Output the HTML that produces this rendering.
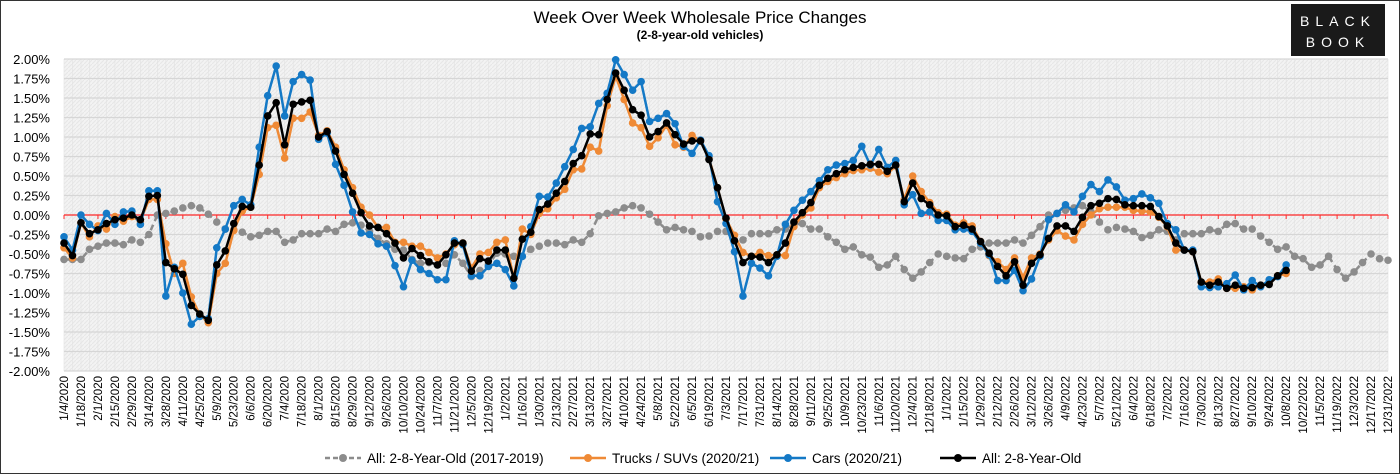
<!DOCTYPE html>
<html><head><meta charset="utf-8">
<style>
html,body{margin:0;padding:0;background:#fff;}
svg{display:block;font-family:"Liberation Sans",Arial,sans-serif;}
</style></head>
<body>
<svg id="chart" width="1400" height="474" viewBox="0 0 1400 474" xmlns="http://www.w3.org/2000/svg">
<defs>
<pattern id="hatch" width="4" height="4" patternUnits="userSpaceOnUse">
<rect width="4" height="4" fill="#f3f3f3"/>
<path d="M0,4 L4,0" stroke="#e6e6e6" stroke-width="1"/>
</pattern>
</defs>
<rect x="0.5" y="0.5" width="1399" height="473" fill="#fff" stroke="#333"/>
<text x="700" y="23" text-anchor="middle" font-size="17" fill="#000">Week Over Week Wholesale Price Changes</text>
<text x="700" y="39" text-anchor="middle" font-size="12" font-weight="bold" fill="#000">(2-8-year-old vehicles)</text>
<g>
<rect x="1291" y="4" width="94" height="52" fill="#1a1a1a"/>
<text x="1338" y="26" text-anchor="middle" font-size="14" fill="#fff" letter-spacing="6">BLACK</text>
<text x="1338" y="47" text-anchor="middle" font-size="14" fill="#fff" letter-spacing="6">BOOK</text>
</g>
<rect x="64" y="59" width="1324" height="312" fill="url(#hatch)"/>
<g id="grid"></g>
<g id="axes"></g>
<g id="series"></g>
<g id="legend"></g>
</svg>
<script>
const yTicks = [2,1.75,1.5,1.25,1,0.75,0.5,0.25,0,-0.25,-0.5,-0.75,-1,-1.25,-1.5,-1.75,-2];
const startDate = [2020,0,4];
const weekCount = 157;
const histAvg = [-0.57,-0.57,-0.57,-0.44,-0.40,-0.36,-0.36,-0.38,-0.32,-0.35,-0.25,
0,0.02,0.05,0.09,0.12,0.09,0.01,-0.09,-0.18,-0.19,
-0.22,-0.28,-0.26,-0.21,-0.21,-0.35,-0.32,-0.24,-0.24,-0.24,
-0.18,-0.21,-0.12,-0.10,-0.13,-0.21,-0.30,-0.37,-0.44,-0.45,
-0.57,-0.62,-0.61,-0.64,-0.62,-0.51,-0.62,-0.79,-0.71,-0.64,
-0.49,-0.50,-0.53,-0.53,-0.44,-0.40,-0.36,-0.36,-0.38,-0.32,
-0.35,-0.24,-0.01,0.02,0.04,0.09,0.12,0.09,0.01,-0.09,
-0.19,-0.16,-0.19,-0.21,-0.28,-0.27,-0.21,-0.21,-0.33,-0.32,
-0.24,-0.24,-0.24,-0.19,-0.18,-0.12,-0.11,-0.18,-0.18,-0.28,
-0.35,-0.44,-0.41,-0.51,-0.54,-0.67,-0.64,-0.53,-0.70,-0.81,
-0.73,-0.61,-0.50,-0.53,-0.55,-0.56,-0.44,-0.41,-0.36,-0.36,
-0.36,-0.32,-0.36,-0.26,-0.15,0,0.02,0.06,0.09,0.12,
0.04,-0.09,-0.19,-0.16,-0.18,-0.21,-0.29,-0.26,-0.19,-0.21,
-0.32,-0.24,-0.24,-0.24,-0.19,-0.21,-0.12,-0.11,-0.18,-0.18,
-0.27,-0.35,-0.44,-0.41,-0.53,-0.56,-0.67,-0.64,-0.53,-0.70,
-0.81,-0.73,-0.61,-0.50,-0.56,-0.58];
const trucks = [-0.42,-0.55,-0.10,-0.28,-0.14,-0.18,-0.02,-0.08,-0.02,-0.08,0.20,0.20,-0.37,-0.75,-0.62,-1.05,-1.28,-1.38,-0.75,-0.62,
-0.20,0.05,0.10,0.52,1.12,1.15,0.73,1.24,1.24,1.32,1.02,1.08,0.87,0.58,0.35,0.10,0.0,-0.16,-0.16,-0.35,
-0.35,-0.40,-0.40,-0.48,-0.55,-0.50,-0.38,-0.36,-0.68,-0.50,-0.48,-0.35,-0.32,-0.81,-0.18,-0.25,0.02,0.08,0.22,0.33,
0.58,0.59,0.87,0.82,1.40,1.78,1.48,1.18,1.12,0.88,0.99,1.15,0.90,0.87,1.02,0.95,0.73,0.35,-0.05,-0.26,
-0.48,-0.53,-0.48,-0.52,-0.51,-0.52,-0.15,0.0,0.09,0.35,0.43,0.48,0.53,0.57,0.58,0.60,0.55,0.53,0.63,0.20,
0.50,0.30,0.16,0.03,0.01,-0.13,-0.10,-0.14,-0.34,-0.52,-0.60,-0.70,-0.55,-0.80,-0.55,-0.50,-0.32,-0.20,-0.27,-0.32,
-0.12,0.0,0.08,0.10,0.10,0.10,0.06,0.05,0.04,-0.03,-0.15,-0.45,-0.45,-0.47,-0.86,-0.86,-0.82,-0.94,-0.94,-0.92,
-0.96,-0.90,-0.88,-0.78,-0.75];
const cars = [-0.28,-0.45,0.0,-0.12,-0.20,0.02,-0.12,0.04,0.05,-0.12,0.31,0.31,-1.04,-0.67,-1.00,-1.40,-1.30,-1.33,-0.42,-0.18,
0.12,0.20,0.13,0.87,1.53,1.91,1.27,1.71,1.80,1.73,0.97,1.05,0.65,0.38,0.04,-0.23,-0.25,-0.37,-0.40,-0.65,
-0.92,-0.58,-0.70,-0.75,-0.83,-0.83,-0.33,-0.38,-0.78,-0.78,-0.66,-0.62,-0.70,-0.91,-0.53,-0.15,0.24,0.23,0.41,0.62,
0.84,1.11,1.13,1.43,1.56,1.99,1.80,1.60,1.71,1.20,1.24,1.30,1.17,0.88,0.79,0.96,0.76,0.17,-0.11,-0.47,
-1.04,-0.62,-0.68,-0.78,-0.53,-0.12,0.06,0.19,0.30,0.44,0.58,0.64,0.66,0.70,0.88,0.64,0.84,0.61,0.70,0.13,
0.26,0.02,0.04,-0.07,-0.07,-0.19,-0.18,-0.21,-0.36,-0.51,-0.84,-0.84,-0.71,-0.97,-0.82,-0.53,-0.06,0.02,0.13,0.04,
0.24,0.39,0.30,0.45,0.36,0.19,0.21,0.27,0.22,0.15,-0.11,-0.19,-0.45,-0.45,-0.92,-0.93,-0.92,-0.88,-0.77,-0.96,
-0.84,-0.92,-0.83,-0.79,-0.64];
const allAges = [-0.36,-0.52,-0.10,-0.24,-0.19,-0.11,-0.06,-0.04,0,-0.06,0.24,0.25,-0.61,-0.69,-0.76,-1.16,-1.27,-1.35,-0.64,-0.46,
-0.11,0.11,0.10,0.64,1.27,1.44,0.90,1.42,1.45,1.47,1.00,1.07,0.82,0.52,0.28,0.03,-0.14,-0.16,-0.24,-0.36,
-0.55,-0.43,-0.52,-0.60,-0.64,-0.51,-0.36,-0.36,-0.72,-0.56,-0.59,-0.45,-0.45,-0.81,-0.31,-0.22,0.07,0.14,0.28,0.43,
0.66,0.76,1.04,1.03,1.48,1.82,1.60,1.35,1.28,1.00,1.07,1.18,1.03,0.91,0.95,0.95,0.71,0.35,-0.04,-0.33,
-0.61,-0.53,-0.54,-0.61,-0.51,-0.36,-0.09,0.03,0.16,0.38,0.47,0.53,0.58,0.61,0.63,0.65,0.65,0.56,0.64,0.17,
0.41,0.21,0.13,0.0,-0.01,-0.15,-0.13,-0.18,-0.34,-0.49,-0.66,-0.78,-0.60,-0.90,-0.62,-0.51,-0.30,-0.14,-0.14,-0.21,
-0.03,0.12,0.15,0.21,0.20,0.13,0.12,0.12,0.11,-0.02,-0.14,-0.36,-0.45,-0.47,-0.86,-0.90,-0.86,-0.94,-0.90,-0.94,
-0.93,-0.90,-0.89,-0.78,-0.71];
const legendLabels = ["All: 2-8-Year-Old (2017-2019)","Trucks / SUVs (2020/21)","Cars (2020/21)","All: 2-8-Year-Old"];

const NS="http://www.w3.org/2000/svg";
const L=64,R=1388,T=59,B=371;
const xs=i=>L+(R-L)*i/(weekCount-1);
const ys=v=>T+(B-T)*(2-v)/4;
function mk(tag,attrs,parent){const e=document.createElementNS(NS,tag);for(const k in attrs)e.setAttribute(k,attrs[k]);parent.appendChild(e);return e;}
const grid=document.getElementById('grid'),axes=document.getElementById('axes'),ser=document.getElementById('series'),leg=document.getElementById('legend');
for(let i=0;i<weekCount;i++){
  const ln=mk('line',{x1:xs(i),x2:xs(i),y1:T,y2:B,stroke:'#e2e2e2','stroke-width':0.6},grid);
  
  
}
yTicks.forEach(v=>{
  const ln=mk('line',{x1:L,x2:R,y1:ys(v),y2:ys(v),stroke:'#d6d6d6','stroke-width':1.3},grid);
  
  
  const t=mk('text',{x:50,y:ys(v)+5,'text-anchor':'end','font-size':13,fill:'#000'},axes);
  t.textContent=v.toFixed(2)+'%';
  
  
});
const zl=mk('line',{x1:L,x2:R,y1:ys(0),y2:ys(0),stroke:'#ff2a2a','stroke-width':1.2},axes);


for(let i=0;i<weekCount;i+=2){
  const tk=mk('line',{x1:xs(i),x2:xs(i),y1:ys(0),y2:ys(0)+4,stroke:'#ff2a2a','stroke-width':1},axes);
  
  
  const d=new Date(startDate[0],startDate[1],startDate[2]+7*i);
  const s=(d.getMonth()+1)+'/'+d.getDate()+'/'+d.getFullYear();
  const x=xs(i)+4,y=376;
  const t=mk('text',{x:x,y:y,'text-anchor':'end','font-size':11.5,fill:'#000',transform:`rotate(-90 ${x} ${y})`},axes);
  t.textContent=s;
  
  
}
const seriesList=[[histAvg,'#8c8c8c','6,4','series-historical-average'],[trucks,'#ef8a36',null,'series-trucks-suvs'],[cars,'#1479c6',null,'series-cars'],[allAges,'#000',null,'series-all-2-8-year-old']];
seriesList.forEach(([data,col,dash,name])=>{
  const g=mk('g',{},ser);
  
  
  const pts=data.map((v,i)=>xs(i).toFixed(1)+','+ys(v).toFixed(1)).join(' ');
  const pl=mk('polyline',{points:pts,fill:'none',stroke:col,'stroke-width':2.5,'stroke-linejoin':'round'},g);
  if(dash)pl.setAttribute('stroke-dasharray',dash);
  
  
  data.forEach((v,i)=>{
    const c=mk('circle',{cx:xs(i),cy:ys(v),r:3.8,fill:col},g);
    
    
  });
});
const legX=[325,570,770,940];
legendLabels.forEach((lab,k)=>{
  const [_,col,dash]=seriesList[k];
  const g=mk('g',{},leg);
  
  
  const ln=mk('line',{x1:legX[k],x2:legX[k]+36,y1:458,y2:458,stroke:col,'stroke-width':2.5},g);
  if(dash)ln.setAttribute('stroke-dasharray','5,3');
  mk('circle',{cx:legX[k]+18,cy:458,r:4,fill:col},g);
  const t=mk('text',{x:legX[k]+42,y:463,'font-size':13.5,fill:'#000'},g);
  t.textContent=lab;
});
</script>
</body></html>
